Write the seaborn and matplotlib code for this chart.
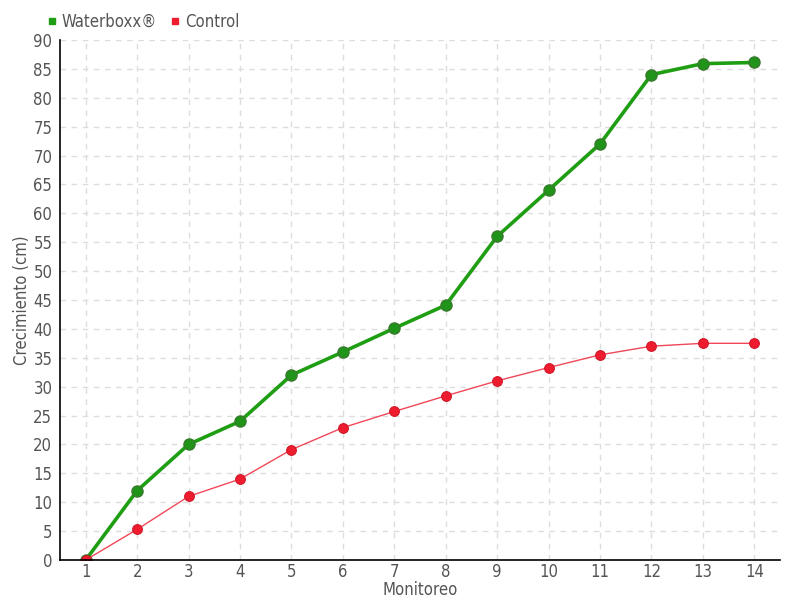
import pandas as pd
import matplotlib
matplotlib.use('Agg')
import matplotlib.pyplot as plt
import seaborn as sns
from matplotlib.lines import Line2D

monitoreo = list(range(1, 15))
waterboxx = [0, 12, 20, 24, 32, 36, 40.1, 44.1, 56, 64, 72, 84, 85.9, 86.1]
control = [0, 5.3, 11, 14, 19.1, 22.9, 25.7, 28.4, 31, 33.3, 35.5, 37, 37.5, 37.5]

df = pd.concat([
    pd.DataFrame({'Monitoreo': monitoreo, 'Crecimiento': waterboxx, 'Serie': 'Waterboxx®'}),
    pd.DataFrame({'Monitoreo': monitoreo, 'Crecimiento': control, 'Serie': 'Control'}),
])

sns.set_style('white')
plt.rcParams['font.family'] = ['DejaVu Sans']
plt.rcParams['font.stretch'] = 'condensed'

text_col = '#555555'
green = '#1f9e14'
red = '#ee1c2e'

fig = plt.figure(figsize=(8, 6), dpi=100)
ax = fig.add_axes([0.075, 0.0667, 0.9, 0.8667])

# Waterboxx: thick line, big markers
w = df[df['Serie'] == 'Waterboxx®']
sns.lineplot(data=w, x='Monitoreo', y='Crecimiento', ax=ax, color=green, lw=2.6,
             marker='o', markersize=8, markerfacecolor='#1f9419',
             markeredgecolor='#3a7a30', markeredgewidth=1, legend=False)
c = df[df['Serie'] == 'Control']
sns.lineplot(data=c, x='Monitoreo', y='Crecimiento', ax=ax, color='#f04858', lw=1,
             marker='o', markersize=7, markerfacecolor=red,
             markeredgecolor='#d01828', markeredgewidth=0.8, legend=False)

ax.set_xlim(0.5, 14.5)
ax.set_ylim(0, 90)
ax.set_xticks(monitoreo)
ax.set_yticks(range(0, 91, 5))
ax.grid(True, color='#dddddd', linestyle=(0, (4, 4)), lw=1)
ax.set_axisbelow(True)
for s in ['top', 'right']:
    ax.spines[s].set_visible(False)
for s in ['left', 'bottom']:
    ax.spines[s].set_color('black')
    ax.spines[s].set_linewidth(1.2)
ax.tick_params(axis='both', colors='black', labelcolor=text_col, labelsize=12,
               length=4, direction='inout', width=1)
ax.tick_params(axis='x', pad=0)
ax.set_xlabel('Monitoreo', color=text_col, fontsize=12, labelpad=0)
ax.set_ylabel('Crecimiento (cm)', color=text_col, fontsize=12, labelpad=2)

handles = [Line2D([], [], marker='s', ls='', color=green, markersize=5),
           Line2D([], [], marker='s', ls='', color=red, markersize=5)]
ax.legend(handles, ['Waterboxx®', 'Control'], loc='lower left',
          bbox_to_anchor=(-0.028, 1.005), ncol=2, frameon=False, fontsize=12,
          handlelength=0.6, handletextpad=0.3, columnspacing=0.8, labelcolor=text_col,
          borderaxespad=0)

fig.savefig('out.png', dpi=100)
